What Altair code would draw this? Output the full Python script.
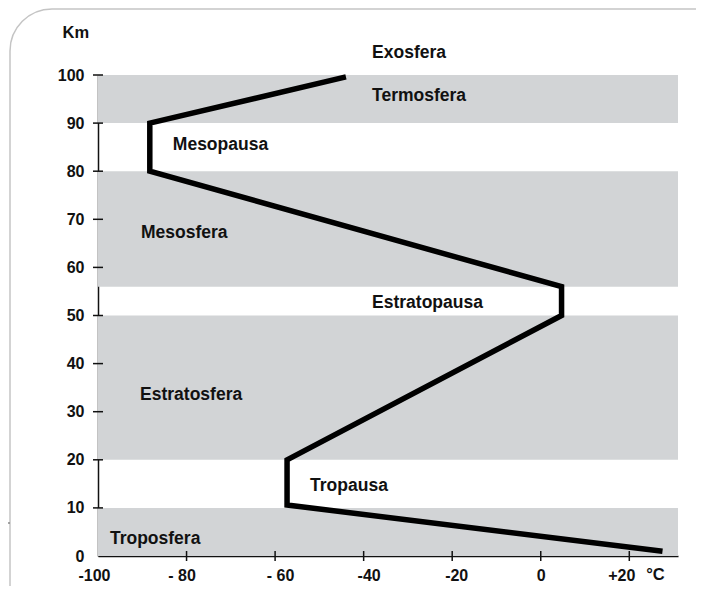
import altair as alt
import pandas as pd

# Atmospheric layers (shaded bands), km
band_lo = [0, 20, 56, 90]
band_hi = [10, 50, 80, 100]

# Temperature profile (°C vs km)
profile_temp = [27.5, -57.3, -57.3, 4.7, 4.7, -88.3, -88.3, -44.0]
profile_alt = [1.0, 10.6, 20.0, 50.0, 56.0, 80.0, 90.0, 99.6]

# Layer names
layer_names = ["Exosfera", "Termosfera", "Mesopausa", "Mesosfera",
               "Estratopausa", "Estratosfera", "Tropausa", "Troposfera"]
layer_x = [-38.1, -38.1, -83.1, -90.3, -38.1, -90.5, -52.1, -97.3]
layer_y = [104.6, 95.6, 85.5, 67.2, 52.6, 33.5, 14.6, 3.5]

x_ticks = [-100, -80, -60, -40, -20, 0, 20]
x_tick_labels = ["-100", "- 80", "- 60", "-40", "-20", "0", "+20"]
x_label_shift = [-4, -5, 5, 5, 4, 0, -8]
y_ticks = [0, 10, 20, 30, 40, 50, 60, 70, 80, 90, 100]

X_DOMAIN = [-100, 31]
Y_DOMAIN = [0, 100]
FONT = "Liberation Sans"
W, H = 580, 481

bands = pd.DataFrame({"lo": band_lo, "hi": band_hi,
                      "x0": [X_DOMAIN[0]] * len(band_lo),
                      "x1": [X_DOMAIN[1]] * len(band_lo)})
profile = pd.DataFrame({"t": profile_temp, "h": profile_alt,
                        "i": list(range(len(profile_temp)))})
labels = pd.DataFrame({"name": layer_names, "x": layer_x, "y": layer_y})
units = pd.DataFrame({"name": ["Km", "°C"], "x": [-105.0, 25.9], "y": [108.7, -4.0]})
xt = pd.DataFrame({"v": [v for v in x_ticks if v != X_DOMAIN[0]]})
yt = pd.DataFrame({"v": [v for v in y_ticks if v != Y_DOMAIN[0]]})

label_expr = " : ".join(
    f"datum.value == {v} ? '{s}'" for v, s in zip(x_ticks, x_tick_labels)
) + " : ''"

xs = alt.Scale(domain=X_DOMAIN, nice=False, zero=False)
ys = alt.Scale(domain=Y_DOMAIN, nice=False, zero=False)

x_axis = alt.Axis(values=x_ticks, labelExpr=label_expr, title=None, grid=False,
                  labelFont=FONT, labelFontWeight="bold", labelFontSize=16,
                  labelColor="#111", labelPadding=11, ticks=False,
                  domainColor="#111", domainWidth=1.5, labelFlush=False,
                  labelOffset={"condition": [
                      {"test": f"datum.value == {v}", "value": d}
                      for v, d in zip(x_ticks, x_label_shift) if d != 0
                  ], "value": 0})
y_axis = alt.Axis(values=y_ticks, title=None, grid=False,
                  labelFont=FONT, labelFontWeight="bold", labelFontSize=16,
                  labelColor="#111", labelPadding=14, ticks=False,
                  domainColor="#111", domainWidth=1.5, labelFlush=False)

one = pd.DataFrame({"a": [0]})
FRAME_COLOR = "#c4c4c4"
frame_top = alt.Chart(one).mark_rule(stroke=FRAME_COLOR, strokeWidth=1.5).encode(
    x=alt.value(-46), x2=alt.value(598), y=alt.value(-66))
frame_left = alt.Chart(one).mark_rule(stroke=FRAME_COLOR, strokeWidth=1.5).encode(
    x=alt.value(-88), y=alt.value(-24), y2=alt.value(511))
frame_corner = alt.Chart(one).mark_arc(
    fill=None, stroke=FRAME_COLOR, strokeWidth=1.5,
    innerRadius=42, outerRadius=42, theta=4.7124, theta2=6.2832
).encode(x=alt.value(-46), y=alt.value(-24))

side_tick = alt.Chart(one).mark_rule(
    stroke="#888888", strokeWidth=1.5
).encode(x=alt.value(-90), x2=alt.value(-88), y=alt.value(448))

band_layer = alt.Chart(bands).mark_rect(color="#d2d4d6").encode(
    x=alt.X("x0:Q", scale=xs, axis=x_axis),
    x2="x1:Q",
    y=alt.Y("lo:Q", scale=ys, axis=y_axis),
    y2="hi:Q",
)

# ticks crossing the axis lines
y_tick_layer = alt.Chart(yt).mark_rule(color="#111", strokeWidth=1.5).encode(
    y=alt.Y("v:Q", scale=ys), x=alt.value(-5), x2=alt.value(5))
x_tick_layer = alt.Chart(xt).mark_rule(color="#111", strokeWidth=1.5).encode(
    x=alt.X("v:Q", scale=xs), y=alt.value(H - 5), y2=alt.value(H + 5))

line_layer = alt.Chart(profile).mark_line(
    color="black", strokeWidth=5.5, strokeJoin="miter", strokeCap="butt"
).encode(
    x=alt.X("t:Q", scale=xs),
    y=alt.Y("h:Q", scale=ys),
    order="i:Q",
)

text_layer = alt.Chart(labels).mark_text(
    align="left", baseline="middle", font=FONT, fontWeight="bold",
    fontSize=17.5, color="#111"
).encode(x=alt.X("x:Q", scale=xs), y=alt.Y("y:Q", scale=ys), text="name:N")

unit_layer = alt.Chart(units).mark_text(
    align="center", baseline="middle", font=FONT, fontWeight="bold",
    fontSize=16.5, color="#111"
).encode(x=alt.X("x:Q", scale=xs), y=alt.Y("y:Q", scale=ys), text="name:N")

chart = alt.layer(
    frame_top, frame_left, frame_corner, side_tick,
    band_layer, y_tick_layer, x_tick_layer, line_layer, text_layer, unit_layer
).properties(
    width=W, height=H,
    autosize=alt.AutoSizeParams(type="none"),
    padding={"left": 90, "top": 67, "right": 18, "bottom": 30},
    background="white",
).configure_view(stroke=None)

chart.save("out.html", embed_options={"renderer": "svg", "actions": False})
